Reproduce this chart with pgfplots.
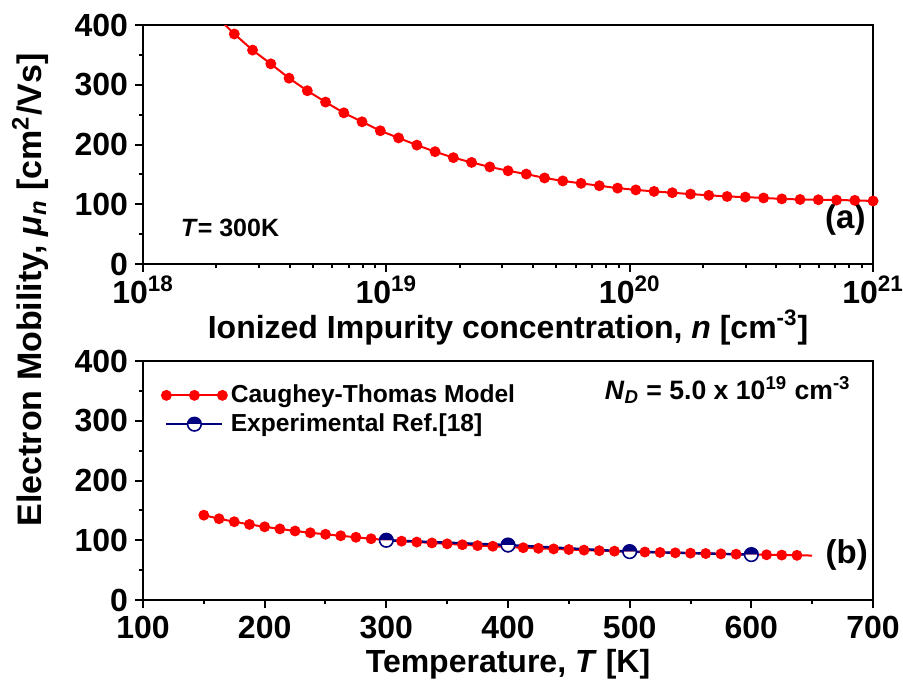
\documentclass[border=0pt]{standalone}
\usepackage{pgfplots}
\pgfplotsset{compat=1.18}
\usepackage{fontspec}
\setmainfont{Liberation Sans}
\usetikzlibrary{plotmarks}
\definecolor{myred}{RGB}{255,0,0}
\definecolor{mynavy}{RGB}{0,0,128}

\pgfplotsset{
  myaxis/.style={
    scale only axis, width=365pt, height=119.5pt,
    anchor=south west,
    axis line style={line width=1pt},
    every tick/.style={black, line width=1pt},
    major tick length=4pt, minor tick length=2.2pt,
    tick align=outside, tick pos=left,
    ymin=0, ymax=400, ytick={0,100,200,300,400}, minor y tick num=1,
    tick label style={font=\fontsize{16}{16}\selectfont\bfseries},
    yticklabel style={inner ysep=0pt},
    xticklabel style={inner ysep=1.5pt},
    /pgf/number format/assume math mode=true,
    label style={font=\fontsize{16}{16}\selectfont\bfseries},
    legend image code/.code={\draw[mark repeat=2,mark phase=2,##1] plot coordinates {(0pt,0pt) (14pt,0pt) (28pt,0pt)};},
  }
}

\begin{document}
\begin{tikzpicture}
% ---------------- panel (a) ----------------
\begin{axis}[myaxis, at={(0pt,168pt)},
  xmode=log, xmin=1e18, xmax=1e21,
  xtick={1e18,1e19,1e20,1e21},
  xticklabels={10\textsuperscript{18},10\textsuperscript{19},10\textsuperscript{20},10\textsuperscript{21}},
  minor xtick={2e18,3e18,4e18,5e18,6e18,7e18,8e18,9e18,2e19,3e19,4e19,5e19,6e19,7e19,8e19,9e19,2e20,3e20,4e20,5e20,6e20,7e20,8e20,9e20},
  xlabel={Ionized Impurity concentration, \textit{n} [cm\textsuperscript{-3}]},
  xlabel style={yshift=2pt},
]
\addplot[color=myred, line width=1pt, mark=*, mark size=2.2pt, mark options={fill=myred, draw=myred}] coordinates {
(1.995e18,415) (2.371e18,385) (2.818e18,358) (3.350e18,335) (3.981e18,311)
(4.732e18,290) (5.623e18,271) (6.683e18,253) (7.943e18,238) (9.441e18,223)
(1.122e19,211) (1.334e19,199) (1.585e19,188) (1.884e19,178) (2.239e19,170)
(2.661e19,162.5) (3.162e19,156) (3.758e19,150.5) (4.467e19,144) (5.309e19,139)
(6.310e19,135) (7.499e19,131) (8.913e19,127) (1.059e20,124) (1.259e20,121.5)
(1.496e20,119.3) (1.778e20,117) (2.113e20,115) (2.512e20,113) (2.985e20,112)
(3.548e20,110.5) (4.217e20,109) (5.012e20,108) (5.957e20,107.5) (7.079e20,107)
(8.414e20,106.5) (1e21,105.5)
};
\node[font=\fontsize{12.5}{12.5}\selectfont\bfseries] at (rel axis cs:0.119,0.15) {\textit{T}= 300K};
\node[font=\fontsize{16.5}{16.5}\selectfont\bfseries] at (rel axis cs:0.962,0.184) {(a)};
\end{axis}

% ---------------- panel (b) ----------------
\begin{axis}[myaxis, at={(0pt,0pt)},
  xmin=100, xmax=700, xtick={100,200,300,400,500,600,700}, minor x tick num=1,
  xticklabel style={yshift=-2.5pt},
  xlabel={Temperature, \textit{T} [K]},
  xlabel style={yshift=0pt},
  legend style={draw=none, fill=none, at={(0.02,0.935)}, anchor=north west,
    font=\fontsize{12.3}{14}\selectfont\bfseries, row sep=0pt, inner sep=2pt},
  legend cell align=left,
]
\addplot[color=myred, line width=1pt, mark=*, mark size=2.2pt, mark options={fill=myred, draw=myred}, mark indices={1,...,40}] coordinates {
(150,142) (162.5,136) (175,131) (187.5,126.5) (200,122.5) (212.5,119) (225,115.5)
(237.5,112.5) (250,110) (262.5,107.5) (275,105) (287.5,102.5) (300,100.5)
(312.5,98.5) (325,97) (337.5,95.5) (350,94) (362.5,92.5) (375,91) (387.5,90)
(400,88.5) (412.5,87.5) (425,86.5) (437.5,85.5) (450,84.5) (462.5,83.5)
(475,82.5) (487.5,81.7) (500,81) (512.5,80.3) (525,79.6) (537.5,79) (550,78.4)
(562.5,77.8) (575,77.2) (587.5,76.7) (600,76.2) (612.5,75.7) (625,75.2)
(637.5,74.8) (650,74.4)
};
\addlegendentry{Caughey-Thomas Model}
\addplot[color=mynavy, line width=1.2pt, mark=halfcircle*, mark size=3.4pt, mark options={fill=mynavy, draw=mynavy, mark color=white, line width=0.8pt}] coordinates {
(300,100) (400,92) (500,81) (600,76)
};
\addlegendentry{Experimental Ref.[18]}
\node[font=\fontsize{13.3}{13.3}\selectfont\bfseries, anchor=east] at (rel axis cs:0.979,0.879) {\textit{N}\textsubscript{\textit{D}} = 5.0 x 10\textsuperscript{19} cm\textsuperscript{-3}};
\node[font=\fontsize{16.5}{16.5}\selectfont\bfseries] at (rel axis cs:0.964,0.188) {(b)};
\end{axis}

\node[rotate=90, font=\fontsize{17}{17}\selectfont\bfseries] at (-56.5pt,155pt) {Electron Mobility, \textit{μ}\textsubscript{\textit{n}} [cm\textsuperscript{2}/Vs]};

\pgfresetboundingbox
\path[use as bounding box] (-71.5pt,-43pt) rectangle (380pt,300pt);
\end{tikzpicture}
\end{document}
